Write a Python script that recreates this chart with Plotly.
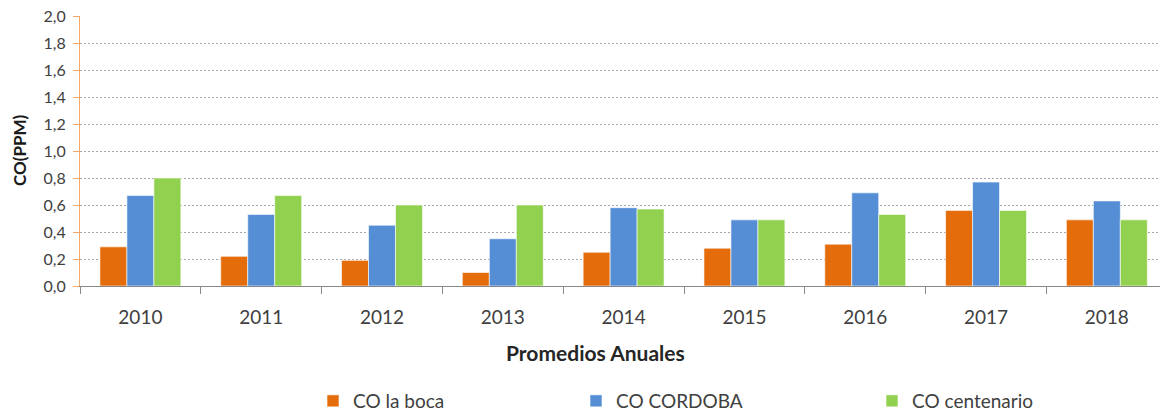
import plotly.graph_objects as go

# promedios anuales de CO (ppm)
years = ["2010", "2011", "2012", "2013", "2014", "2015", "2016", "2017", "2018"]
co_la_boca = [0.29, 0.22, 0.19, 0.10, 0.25, 0.28, 0.31, 0.56, 0.49]
co_cordoba = [0.67, 0.53, 0.45, 0.35, 0.58, 0.49, 0.69, 0.77, 0.63]
co_centenario = [0.80, 0.67, 0.60, 0.60, 0.57, 0.49, 0.53, 0.56, 0.49]

y_ticks = [0.0, 0.2, 0.4, 0.6, 0.8, 1.0, 1.2, 1.4, 1.6, 1.8, 2.0]
y_labels = ["%.1f" % v for v in y_ticks]
y_labels = [s.replace(".", ",") for s in y_labels]

FONT = "Lato"
TXT = "#404040"

series = [
    ("CO la boca", co_la_boca, "#E46C0A", "legend", 313),
    ("CO CORDOBA", co_cordoba, "#558ED5", "legend2", 576),
    ("CO centenario", co_centenario, "#92D050", "legend3", 872),
]

fig = go.Figure()
for name, vals, color, leg, _ in series:
    fig.add_trace(go.Bar(x=years, y=vals, name=name, legend=leg,
                         marker=dict(color=color,
                                     line=dict(color="rgba(255,255,255,0.6)", width=1))))

leg_style = dict(orientation="h", xref="container", yref="container",
                 yanchor="middle", y=11 / 412, bgcolor="rgba(0,0,0,0)",
                 itemwidth=30,
                 font=dict(family=FONT, size=19, color=TXT))

fig.update_layout(
    width=1160, height=412,
    margin=dict(l=80, r=0, t=16, b=126, autoexpand=False),
    plot_bgcolor="white", paper_bgcolor="white",
    barmode="group", bargap=0.33, bargroupgap=0,
    font=dict(family=FONT, color=TXT),
    showlegend=True,
)
for name, vals, color, leg, xpx in series:
    fig.update_layout({leg: dict(x=xpx / 1160, **leg_style)})

fig.update_xaxes(
    range=[-0.5, 8.44],
    showline=True, linecolor="#898989", linewidth=1,
    ticks="outside", tickson="boundaries", ticklen=7, tickcolor="#898989",
    ticklabelstandoff=14,
    tickfont=dict(family=FONT, size=19, color=TXT),
    showgrid=False,
)
fig.update_yaxes(
    range=[0, 2.0],
    tickvals=y_ticks, ticktext=y_labels,
    showline=True, linecolor="#F8A66A", linewidth=1,
    ticks="outside", ticklen=6, tickcolor="#F8A66A",
    ticklabelstandoff=4,
    tickfont=dict(family=FONT, size=16, color=TXT),
    showgrid=True, gridcolor="#A6A6A6", griddash="2px,2px", gridwidth=1,
    zeroline=False,
)

fig.add_annotation(text="<b>CO(PPM)</b>", xref="paper", yref="paper",
                   x=-(80 - 19) / 1080, y=0.5, xanchor="center", yanchor="middle",
                   textangle=-90, showarrow=False,
                   font=dict(family=FONT, size=17, color="#1a1a1a"))
fig.add_annotation(text="<b>Promedios Anuales</b>", xref="paper", yref="paper",
                   x=(595 - 80) / 1080, y=-(352 - 286) / 270,
                   xanchor="center", yanchor="middle", showarrow=False,
                   font=dict(family=FONT, size=21, color="#262626"))

# quitar el margen del body para que la figura empiece en (0, 0)
fig.write_html("out.html", config={"displayModeBar": False},
               post_script="document.body.style.margin = '0';")
